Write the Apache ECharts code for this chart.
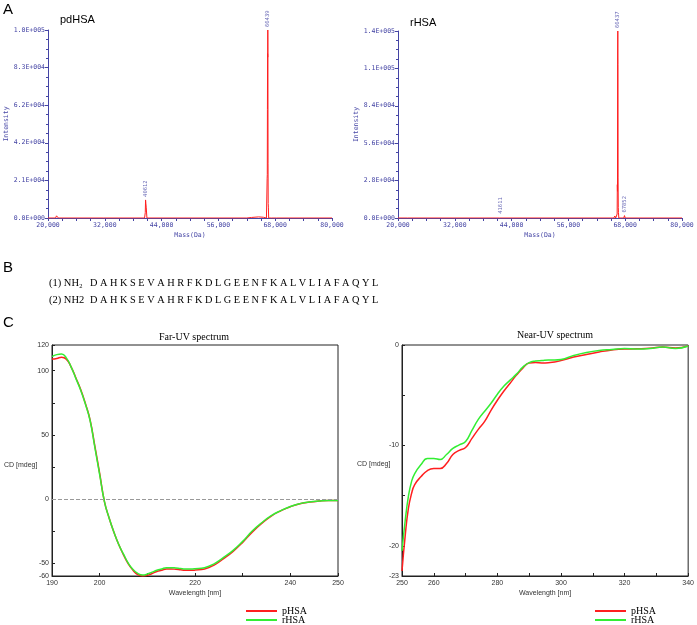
<!DOCTYPE html>
<html><head><meta charset="utf-8">
<script src="https://cdn.jsdelivr.net/npm/echarts@6/dist/echarts.min.js"></script>
<style>html,body{margin:0;padding:0;background:#fff}#c{width:697px;height:625px}</style>
</head><body><div id="c"></div>
<script>
// ---- Panel A: mass spectra ----
const pdMass      = [20000, 21600, 21800, 22000, 22200, 31800, 32000, 32200, 40400, 40550, 40612, 40680, 40750, 40900, 62000, 63000, 64500, 65500, 66150, 66250, 66300, 66330, 66360, 66390, 66420, 66439, 66460, 66490, 66520, 66560, 66620, 67200, 67400, 67600, 68300, 68500, 80000];
const pdIntensity = [0, 0, 1200, 300, 0, 0, 500, 0, 0, 3000, 10000, 8000, 6000, 0, 0, 300, 600, 400, 0, 800, 22000, 24000, 60000, 91000, 89000, 104000, 91000, 30000, 8000, 6000, 0, 0, 800, 0, 0, 300, 0];
const pdPeakMass      = [40612, 66439];
const pdPeakIntensity = [10000, 104000];

const rMass      = [20000, 22000, 22200, 22400, 41400, 41611, 41800, 65600, 65800, 66000, 66200, 66300, 66340, 66370, 66400, 66437, 66470, 66500, 66540, 66580, 66650, 67700, 67852, 68000, 80000];
const rIntensity = [0, 0, 600, 0, 0, 900, 0, 0, 1500, 0, 0, 3000, 25000, 20000, 122000, 140000, 115000, 30000, 8000, 4000, 0, 0, 1800, 0, 0];
const rPeakMass      = [41611, 66437, 67852];
const rPeakIntensity = [900, 140000, 1800];

const massLabels = [20000, 32000, 44000, 56000, 68000, 80000];
const massTicks  = [20000, 23000, 26000, 29000, 32000, 35000, 38000, 41000, 44000, 47000, 50000, 53000, 56000, 59000, 62000, 65000, 68000, 71000, 74000, 77000, 80000];
const pdIntMax = 104000, pdIntStep = 20800;
const rIntMax  = 140000, rIntStep  = 28000;

// ---- Panel B: sequences ----
const seqPrefix = ['(1) NH\u2082', '(2) NH2'];
const seqText   = ['D A H K S E V A H R F K D L G E E N F K A L V L I A F A Q Y L',
                   'D A H K S E V A H R F K D L G E E N F K A L V L I A F A Q Y L'];

// ---- Panel C: CD spectra ----
const farWavelength = [190,191,192,193,194,195,196,197,198,199,200,201,202,203,204,205,206,207,208,209,210,211,212,213,214,215,216,217,218,219,220,222,224,226,228,230,232,234,236,238,240,242,244,246,248,250];
const farP = [109,109.5,110.5,109,103,94.5,85.5,74.5,61.5,41,20,-2,-15,-26,-35.5,-43.5,-50.5,-55.5,-59,-60,-59.5,-58,-56.5,-55.5,-54.5,-54.5,-54.8,-55.2,-55.5,-55.6,-55.4,-54.5,-51.5,-46.5,-40.8,-33.8,-25.8,-19,-13.3,-9.2,-6,-3.7,-2.4,-1.6,-1.2,-1.2];
const farR = [111,112.5,113,110,103,94,85,74,61,40,19,-2,-15,-26,-35.5,-43,-50,-55,-58,-59.2,-58.5,-57,-55.5,-54.5,-53.5,-53.5,-53.8,-54.2,-54.5,-54.6,-54.4,-53.5,-50.5,-45.5,-40,-33,-25,-18.5,-13,-9,-5.8,-3.6,-2.3,-1.6,-1.2,-1.2];

const nearWavelength = [250,251,252,253,254,256,258,260,262,264,266,268,270,272,274,276,278,280,282,284,286,288,290,292,294,296,298,300,304,308,312,316,320,324,328,332,336,340];
const nearP = [-22.5,-19,-16.3,-14.8,-13.9,-13.1,-12.5,-12.3,-12.3,-11.8,-10.9,-10.5,-10.2,-9.3,-8.4,-7.6,-6.5,-5.5,-4.6,-3.8,-3.0,-2.3,-1.8,-1.75,-1.78,-1.76,-1.7,-1.55,-1.2,-0.95,-0.7,-0.5,-0.4,-0.38,-0.33,-0.2,-0.3,-0.1];
const nearR = [-20.5,-17.5,-15.1,-13.6,-12.8,-11.9,-11.3,-11.3,-11.4,-10.9,-10.3,-9.95,-9.6,-8.5,-7.4,-6.6,-5.8,-4.9,-4.1,-3.5,-2.9,-2.2,-1.75,-1.6,-1.55,-1.5,-1.5,-1.45,-1.05,-0.75,-0.55,-0.45,-0.35,-0.4,-0.35,-0.2,-0.35,-0.1];

const farXLabels = [190,200,220,240,250];
const farXTicks  = [190,200,210,220,230,240,250];
const farYLabels = [-60,-50,0,50,100,120];
const farYTicks  = [-60,-50,-25,0,25,50,75,100,120];
const nearXLabels = [250,260,280,300,320,340];
const nearXTicks  = [250,260,270,280,290,300,310,320,330,340];
const nearYLabels = [-23,-20,-10,0];
const nearYTicks  = [-23,-20,-15,-10,-5,0];

const seriesNames = ['pHSA', 'rHSA'];

// ---- styles ----
const RED = '#ff1f1f', GREEN = '#33ee33', MSBLUE = '#4444a4';
const zip = (a, b) => a.map((v, i) => [v, b[i]]);
function sci(v) {
  if (v === 0) return '0.0E+000';
  const e = Math.floor(Math.log10(v) + 1e-9);
  const m = v / Math.pow(10, e);
  return m.toFixed(1) + 'E+' + String(e).padStart(3, '0');
}
const msAxisX = (grid) => ({
  type: 'value', gridIndex: grid, min: 20000, max: 80000,
  name: 'Mass(Da)', nameLocation: 'middle', nameGap: 14,
  nameTextStyle: {color: MSBLUE, fontSize: 6.5, fontFamily: 'DejaVu Sans Mono'},
  axisLine: {onZero: false, lineStyle: {color: MSBLUE, width: 1}},
  axisTick: {show: true, inside: false, length: 3, customValues: massTicks, lineStyle: {color: MSBLUE}},
  axisLabel: {customValues: massLabels, color: MSBLUE, fontSize: 6.5, fontFamily: 'DejaVu Sans Mono', margin: 4},
  splitLine: {show: false}
});
const msAxisY = (grid, max, step) => ({
  type: 'value', gridIndex: grid, min: 0, max: max, interval: step,
  name: 'Intensity', nameLocation: 'middle', nameGap: 35, nameRotate: 90,
  nameTextStyle: {color: MSBLUE, fontSize: 6.5, fontFamily: 'DejaVu Sans Mono'},
  axisLine: {show: true, onZero: false, lineStyle: {color: MSBLUE, width: 1}},
  axisTick: {show: true, inside: false, length: 3, lineStyle: {color: MSBLUE}},
  minorTick: {show: true, splitNumber: 4, length: 2, lineStyle: {color: MSBLUE}},
  axisLabel: {color: MSBLUE, fontSize: 6.5, fontFamily: 'DejaVu Sans Mono', margin: 3, formatter: sci},
  splitLine: {show: false}
});
const cdAxisX = (grid, min, max, ticks, labels) => ({
  type: 'value', gridIndex: grid, min: min, max: max,
  name: 'Wavelength [nm]', nameLocation: 'middle', nameGap: 14,
  nameTextStyle: {color: '#333', fontSize: 7, fontFamily: 'Liberation Sans'},
  axisLine: {onZero: false, lineStyle: {color: '#222', width: 1}},
  axisTick: {show: true, inside: true, length: 3, customValues: ticks, lineStyle: {color: '#222'}},
  axisLabel: {customValues: labels, color: '#333', fontSize: 7, fontFamily: 'Liberation Sans', margin: 4},
  splitLine: {show: false}
});
const cdAxisY = (grid, min, max, ticks, labels) => ({
  type: 'value', gridIndex: grid, min: min, max: max,
  axisLine: {show: true, onZero: false, lineStyle: {color: '#222', width: 1}},
  axisTick: {show: true, inside: true, length: 3, customValues: ticks, lineStyle: {color: '#222'}},
  axisLabel: {customValues: labels, color: '#333', fontSize: 7, fontFamily: 'Liberation Sans', margin: 3},
  splitLine: {show: false}
});
const peakLabels = (xi, masses, ints) => ({
  type: 'scatter', xAxisIndex: xi, yAxisIndex: xi, symbolSize: 0, silent: true, z: 5,
  data: zip(masses, ints),
  label: {show: true, position: 'top', distance: 3, rotate: 90, align: 'left', verticalAlign: 'middle',
          formatter: p => String(p.value[0]), color: MSBLUE, fontSize: 5.5, fontFamily: 'DejaVu Sans Mono'}
});
const cdLine = (xi, name, color, xs, ys, extra) => Object.assign({
  type: 'line', name: name, xAxisIndex: xi, yAxisIndex: xi, data: zip(xs, ys),
  showSymbol: false, smooth: 0.5, color: color,
  lineStyle: {color: color, width: 1.5}, silent: true
}, extra || {});

const txt = (left, top, text, font, extra) => ({type: 'text', left: left, top: top, silent: true,
  style: Object.assign({text: text, font: font, fill: '#000'}, extra || {})});
const ctxt = (x, y, text, font) => ({type: 'text', x: x, y: y, silent: true,
  style: {text: text, font: font, fill: '#000', textAlign: 'center', textVerticalAlign: 'middle', align: 'center', verticalAlign: 'middle'}});

const legendCommon = {
  orient: 'vertical', bottom: 0, height: 40, itemWidth: 31, itemHeight: 2, itemGap: -1, icon: 'rect',
  padding: 0, data: seriesNames, selectedMode: false,
  textStyle: {fontFamily: 'Liberation Serif', fontSize: 10, color: '#000', lineHeight: 9, padding: [0, 0, 0, 0]}
};

const option = {
  animation: false,
  backgroundColor: '#fff',
  grid: [
    {left: 48, top: 30, width: 284, height: 188},
    {left: 398, top: 31, width: 284, height: 187},
    {left: 52, top: 345, width: 286, height: 231, show: true, borderColor: '#222', borderWidth: 1},
    {left: 402, top: 345, width: 289, height: 231, show: true, borderColor: '#222', borderWidth: 1}
  ],
  xAxis: [
    msAxisX(0), msAxisX(1),
    cdAxisX(2, 190, 250, farXTicks, farXLabels),
    cdAxisX(3, 250, 340, nearXTicks, nearXLabels)
  ],
  yAxis: [
    msAxisY(0, pdIntMax, pdIntStep), msAxisY(1, rIntMax, rIntStep),
    cdAxisY(2, -60, 120, farYTicks, farYLabels),
    cdAxisY(3, -23, 0, nearYTicks, nearYLabels)
  ],
  legend: [
    Object.assign({left: 246}, legendCommon),
    Object.assign({left: 595}, legendCommon)
  ],
  series: [
    {type: 'line', name: 'pdHSA-MS', xAxisIndex: 0, yAxisIndex: 0, data: zip(pdMass, pdIntensity),
     showSymbol: false, color: RED, lineStyle: {color: RED, width: 1}, silent: true},
    peakLabels(0, pdPeakMass, pdPeakIntensity),
    {type: 'line', name: 'rHSA-MS', xAxisIndex: 1, yAxisIndex: 1, data: zip(rMass, rIntensity),
     showSymbol: false, color: RED, lineStyle: {color: RED, width: 1}, silent: true},
    peakLabels(1, rPeakMass, rPeakIntensity),
    cdLine(2, seriesNames[0], RED, farWavelength, farP, {
      markLine: {silent: true, symbol: 'none', label: {show: false},
                 lineStyle: {color: '#999', type: 'dashed', width: 1}, data: [{yAxis: 0}]}
    }),
    cdLine(2, seriesNames[1], GREEN, farWavelength, farR),
    cdLine(3, seriesNames[0], RED, nearWavelength, nearP),
    cdLine(3, seriesNames[1], GREEN, nearWavelength, nearR)
  ],
  graphic: [
    txt(3, 2, 'A', '15px "Liberation Sans"'),
    txt(60, 14, 'pdHSA', '11px "Liberation Sans"'),
    txt(410, 17, 'rHSA', '11px "Liberation Sans"'),
    txt(3, 260, 'B', '15px "Liberation Sans"'),
    txt(49, 278, seqPrefix[0], '10.5px "Liberation Serif"'),
    txt(90, 278, seqText[0], '10.3px "Liberation Serif"'),
    txt(49, 295, seqPrefix[1], '10.5px "Liberation Serif"'),
    txt(90, 295, seqText[1], '10.3px "Liberation Serif"'),
    txt(3, 315, 'C', '15px "Liberation Sans"'),
    ctxt(194, 337, 'Far-UV spectrum', '10px "Liberation Serif"'),
    ctxt(555, 335, 'Near-UV spectrum', '10px "Liberation Serif"'),
    txt(4, 462, 'CD [mdeg]', '7px "Liberation Sans"', {fill: '#333'}),
    txt(357, 461, 'CD [mdeg]', '7px "Liberation Sans"', {fill: '#333'})
  ]
};
const chart = echarts.init(document.getElementById('c'), null, {renderer: 'canvas'});
chart.setOption(option);
</script>
</body></html>
